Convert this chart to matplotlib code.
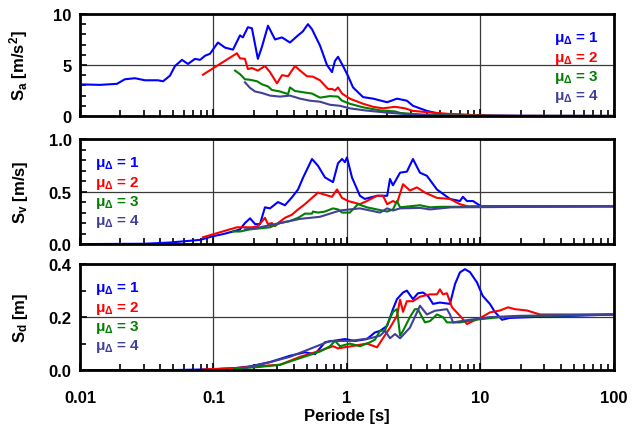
import numpy as np
import matplotlib
matplotlib.use('Agg')
import matplotlib.pyplot as plt
from matplotlib.ticker import MultipleLocator, LogLocator, NullFormatter

plt.rcParams['font.family'] = ['Liberation Sans', 'DejaVu Sans']
plt.rcParams['font.weight'] = 'bold'
plt.rcParams['axes.labelweight'] = 'bold'
plt.rcParams['mathtext.fontset'] = 'custom'
plt.rcParams['mathtext.rm'] = 'Liberation Sans:bold'
plt.rcParams['mathtext.it'] = 'Liberation Sans:bold'
plt.rcParams['mathtext.bf'] = 'Liberation Sans:bold'

# ---- Sa [m/s2] ----
sa1_T = [0.01, 0.0141, 0.0189, 0.0217, 0.0258, 0.0307, 0.0384, 0.0419, 0.0472, 0.0515, 0.0581,
         0.0644, 0.0727, 0.0793, 0.0864, 0.0942, 0.108, 0.122, 0.140, 0.158, 0.166, 0.181, 0.194,
         0.215, 0.231, 0.256, 0.289, 0.326, 0.374, 0.430, 0.468, 0.510, 0.547, 0.628, 0.708,
         0.772, 0.813, 0.857, 0.934, 1.02, 1.11, 1.32, 1.57, 2.00, 2.37, 2.81, 3.12, 3.97, 4.97,
         8.34, 12.0, 20.0, 50.0, 100.0]
sa1 = [3.1, 3.05, 3.15, 3.6, 3.7, 3.5, 3.5, 3.4, 3.95, 4.9, 5.5, 5.1, 5.6, 5.5, 5.9, 6.1, 7.2,
       6.7, 6.5, 7.9, 7.7, 8.7, 8.6, 5.6, 6.8, 8.85, 7.5, 7.7, 7.2, 7.9, 8.3, 9.0, 8.5, 6.9, 5.0,
       4.3, 5.4, 5.8, 4.9, 3.9, 2.8, 1.85, 1.7, 1.35, 1.7, 1.5, 1.0, 0.5, 0.2, 0.1, 0.05, 0.02,
       0.01, 0.005]

sa2_T = [0.0834, 0.150, 0.158, 0.172, 0.181, 0.194, 0.215, 0.243, 0.265, 0.299, 0.326, 0.362,
         0.408, 0.445, 0.501, 0.556, 0.628, 0.721, 0.772, 0.813, 0.857, 0.918, 1.05, 1.32, 1.57,
         1.86, 2.29, 2.72, 3.12, 4.19, 5.91, 8.34, 12.0, 20.0, 100.0]
sa2 = [4.05, 6.15, 5.65, 5.6, 4.6, 4.7, 4.45, 4.9, 4.3, 3.2, 4.0, 3.9, 4.9, 4.45, 3.9, 3.85, 3.5,
       2.65, 2.65, 2.5, 2.8, 2.2, 1.7, 1.2, 0.9, 0.75, 0.9, 0.75, 0.5, 0.35, 0.2, 0.1, 0.03,
       0.01, 0.003]

sa3_T = [0.145, 0.158, 0.172, 0.188, 0.212, 0.231, 0.256, 0.274, 0.315, 0.362, 0.374, 0.408,
         0.484, 0.547, 0.628, 0.746, 0.857, 0.918, 1.05, 1.32, 1.77, 2.29, 2.50, 3.52, 6.0, 15.0,
         100.0]
sa3 = [4.45, 4.1, 3.6, 3.55, 3.4, 3.1, 2.9, 2.55, 2.4, 2.15, 2.8, 2.45, 2.3, 2.2, 1.8, 1.95, 1.9,
       1.5, 1.2, 0.85, 0.55, 0.45, 0.3, 0.15, 0.05, 0.01, 0.003]

sa4_T = [0.172, 0.188, 0.205, 0.231, 0.265, 0.315, 0.374, 0.445, 0.528, 0.628, 0.746, 0.887,
         1.05, 1.36, 1.93, 2.96, 5.0, 10.0, 100.0]
sa4 = [3.3, 2.75, 2.4, 2.25, 2.0, 1.9, 2.0, 1.7, 1.5, 1.4, 1.1, 1.0, 0.75, 0.55, 0.35, 0.15,
       0.05, 0.01, 0.003]

# ---- Sv [m/s] ----
sv1_T = [0.01, 0.03, 0.0472, 0.0793, 0.099, 0.118, 0.140, 0.158, 0.172, 0.188, 0.205, 0.223,
         0.243, 0.265, 0.304, 0.343, 0.387, 0.430, 0.468, 0.547, 0.607, 0.684, 0.786, 0.857,
         0.918, 0.966, 1.0, 1.09, 1.25, 1.36, 1.68, 2.00, 2.10, 2.21, 2.50, 2.81, 3.12, 3.52,
         3.97, 4.72, 5.91, 7.02, 7.39, 7.92, 8.79, 10.1, 20.0, 100.0]
sv1 = [0.0, 0.003, 0.015, 0.04, 0.075, 0.095, 0.12, 0.14, 0.2, 0.245, 0.19, 0.19, 0.35, 0.34,
       0.4, 0.37, 0.445, 0.52, 0.63, 0.81, 0.745, 0.635, 0.59, 0.77, 0.81, 0.78, 0.825, 0.635,
       0.46, 0.43, 0.46, 0.46, 0.62, 0.56, 0.68, 0.69, 0.81, 0.68, 0.65, 0.52, 0.43, 0.41, 0.45,
       0.41, 0.41, 0.36, 0.36, 0.36]

sv2_T = [0.0834, 0.150, 0.172, 0.194, 0.215, 0.243, 0.256, 0.274, 0.289, 0.304, 0.343, 0.387,
         0.430, 0.484, 0.547, 0.607, 0.684, 0.772, 0.842, 0.918, 1.02, 1.25, 1.41, 1.68, 1.86,
         2.00, 2.21, 2.37, 2.63, 2.96, 3.34, 3.84, 4.72, 5.91, 7.02, 8.0, 100.0]
sv2 = [0.065, 0.16, 0.16, 0.16, 0.17, 0.25, 0.19, 0.2, 0.17, 0.2, 0.25, 0.28, 0.33, 0.38, 0.44,
       0.49, 0.47, 0.45, 0.52, 0.44, 0.41, 0.38, 0.41, 0.46, 0.46, 0.38, 0.41, 0.39, 0.57, 0.51,
       0.54, 0.49, 0.44, 0.43, 0.38, 0.36, 0.36]

sv3_T = [0.140, 0.158, 0.188, 0.223, 0.265, 0.315, 0.374, 0.430, 0.484, 0.547, 0.556, 0.607,
         0.684, 0.786, 0.857, 0.918, 1.05, 1.21, 1.41, 1.68, 2.00, 2.21, 2.37, 2.50, 2.96, 3.52,
         4.19, 5.0, 100.0]
sv3 = [0.12, 0.12, 0.14, 0.15, 0.16, 0.2, 0.22, 0.25, 0.29, 0.29, 0.31, 0.3, 0.31, 0.34, 0.33,
       0.3, 0.3, 0.38, 0.35, 0.33, 0.31, 0.33, 0.41, 0.35, 0.36, 0.37, 0.35, 0.355, 0.36]

sv4_T = [0.172, 0.223, 0.315, 0.445, 0.628, 0.746, 0.887, 1.05, 1.25, 1.49, 1.77, 2.00, 2.21,
         2.50, 3.52, 4.19, 6.0, 100.0]
sv4 = [0.14, 0.16, 0.2, 0.24, 0.26, 0.29, 0.32, 0.33, 0.34, 0.32, 0.3, 0.34, 0.32, 0.34, 0.345,
       0.33, 0.35, 0.36]

# ---- Sd [m] ----
sd1_T = [0.01, 0.05, 0.1, 0.15, 0.188, 0.265, 0.374, 0.484, 0.576, 0.684, 0.786, 0.966, 1.15,
         1.41, 1.62, 1.77, 2.00, 2.21, 2.37, 2.63, 2.81, 3.12, 3.40, 3.71, 4.04, 4.41, 4.97, 5.91,
         6.45, 7.02, 7.65, 8.34, 9.42, 10.4, 11.8, 12.8, 14.5, 16.6, 23.5, 50.0, 100.0]
sd1 = [0.0, 0.0, 0.003, 0.008, 0.014, 0.03, 0.054, 0.067, 0.06, 0.105, 0.11, 0.117, 0.11, 0.117,
       0.142, 0.148, 0.167, 0.23, 0.268, 0.293, 0.3, 0.268, 0.29, 0.293, 0.28, 0.25, 0.255,
       0.25, 0.325, 0.369, 0.381, 0.37, 0.331, 0.28, 0.249, 0.22, 0.19, 0.197, 0.2, 0.205, 0.21]

sd2_T = [0.0834, 0.150, 0.223, 0.315, 0.445, 0.628, 0.786, 0.857, 1.02, 1.41, 1.68, 1.86, 2.10,
         2.37, 2.50, 2.63, 2.81, 3.12, 3.52, 4.19, 4.72, 4.97, 5.24, 5.61, 6.12, 7.02, 7.92, 8.79,
         9.91, 11.8, 14.0, 16.1, 18.1, 22.3, 27.9, 100.0]
sd2 = [0.002, 0.008, 0.015, 0.02, 0.05, 0.073, 0.09, 0.082, 0.088, 0.1, 0.086, 0.12, 0.16,
       0.205, 0.266, 0.22, 0.26, 0.26, 0.277, 0.286, 0.286, 0.305, 0.286, 0.29, 0.237, 0.205,
       0.174, 0.185, 0.196, 0.218, 0.225, 0.237, 0.23, 0.225, 0.21, 0.21]

sd3_T = [0.145, 0.223, 0.315, 0.445, 0.628, 0.746, 0.813, 0.887, 1.05, 1.25, 1.49, 1.62, 1.77,
         1.93, 2.00, 2.21, 2.37, 2.50, 2.63, 2.96, 3.23, 3.40, 3.52, 3.84, 4.19, 4.72, 5.24, 5.61,
         7.02, 9.1, 14.0, 30.0, 100.0]
sd3 = [0.005, 0.012, 0.02, 0.045, 0.07, 0.09, 0.11, 0.09, 0.1, 0.09, 0.105, 0.115, 0.148, 0.15,
       0.172, 0.22, 0.23, 0.13, 0.148, 0.2, 0.23, 0.23, 0.215, 0.18, 0.185, 0.21, 0.2, 0.18, 0.18,
       0.19, 0.2, 0.205, 0.21]

sd4_T = [0.172, 0.265, 0.374, 0.528, 0.746, 1.05, 1.49, 1.77, 1.93, 2.10, 2.29, 2.50, 2.96, 3.34,
         3.52, 3.97, 4.56, 5.61, 5.91, 6.23, 8.34, 11.8, 20.0, 100.0]
sd4 = [0.008, 0.03, 0.05, 0.08, 0.11, 0.11, 0.12, 0.13, 0.148, 0.12, 0.136, 0.12, 0.16, 0.217,
       0.243, 0.21, 0.224, 0.23, 0.21, 0.18, 0.19, 0.2, 0.205, 0.21]

labels = [r'$\mu_\Delta$ = 1', r'$\mu_\Delta$ = 2', r'$\mu_\Delta$ = 3', r'$\mu_\Delta$ = 4']
colors = ['#0000FF', '#FF0000', '#008000', '#404099']

panels = [
    ([(sa1_T, sa1), (sa2_T, sa2), (sa3_T, sa3), (sa4_T, sa4)],
     r'S$_\mathregular{a}$ [m/s$^\mathregular{2}$]', (0, 10), 5, 1, 'upper right', '%g'),
    ([(sv1_T, sv1), (sv2_T, sv2), (sv3_T, sv3), (sv4_T, sv4)],
     r'S$_\mathregular{v}$ [m/s]', (0, 1), 0.5, 0.1, 'upper left', '%.1f'),
    ([(sd1_T, sd1), (sd2_T, sd2), (sd3_T, sd3), (sd4_T, sd4)],
     r'S$_\mathregular{d}$ [m]', (0, 0.4), 0.2, 0.1, 'upper left', '%.1f'),
]

fig = plt.figure(figsize=(6.41, 4.27), dpi=100)
boxes = [[0.1248, 0.726, 0.833, 0.239],
         [0.1248, 0.426, 0.833, 0.246],
         [0.1248, 0.131, 0.833, 0.248]]

for i, (series, ylab, ylim, major, minor, legloc, fmt) in enumerate(panels):
    ax = fig.add_axes(boxes[i])
    for (T, v), c, lab in zip(series, colors, labels):
        ax.plot(T, v, color=c, lw=1.5, label=lab)
    ax.set_xscale('log')
    ax.set_xlim(0.01, 100)
    ax.set_ylim(*ylim)
    ax.yaxis.set_major_locator(MultipleLocator(major))
    ax.yaxis.set_minor_locator(MultipleLocator(minor))
    ax.yaxis.set_major_formatter(plt.FormatStrFormatter(fmt))
    ax.xaxis.set_minor_locator(LogLocator(base=10, subs=np.arange(2, 10)))
    ax.xaxis.set_minor_formatter(NullFormatter())
    ax.grid(True, which='major', color='#3a3a3a', lw=0.9)
    ax.tick_params(which='both', direction='in', top=False, right=False, width=1.2,
                   labelsize=12)
    ax.tick_params(which='major', length=5)
    ax.tick_params(which='minor', length=4)
    ax.tick_params(axis='x', pad=14)
    ax.tick_params(axis='y', pad=6)
    for s in ax.spines.values():
        s.set_linewidth(2)
    ax.set_ylabel(ylab, fontsize=12, fontweight='bold')
    ax.yaxis.set_label_coords(-0.093, 0.5)
    if i < 2:
        ax.set_xticklabels([])
    else:
        ax.set_xticks([0.01, 0.1, 1, 10, 100])
        ax.set_xticklabels(['0.01', '0.1', '1', '10', '100'])
        ax.set_xlabel('Periode [s]', fontsize=12, fontweight='bold')
        ax.xaxis.set_label_coords(0.5, -0.36)
    leg = ax.legend(loc=legloc, frameon=False, handlelength=0, handletextpad=0,
                    labelcolor='linecolor', fontsize=11, labelspacing=0.15,
                    borderaxespad=0.6)
    for h in leg.legend_handles:
        h.set_visible(False)

plt.savefig('out.png', dpi=100)
